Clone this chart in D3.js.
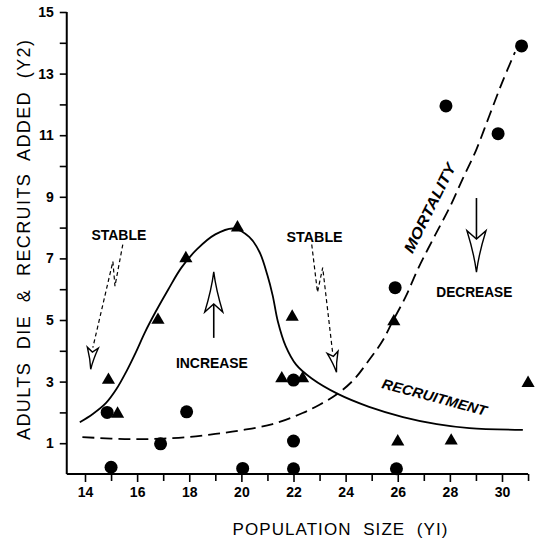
<!DOCTYPE html>
<html>
<head>
<meta charset="utf-8">
<script src="https://cdn.jsdelivr.net/npm/d3@7"></script>
<style>
  body { margin: 0; background: #fff; }
  svg { display: block; }
  text { font-family: "Liberation Sans", Arial, sans-serif; fill: #000; white-space: pre; }
</style>
</head>
<body>
<script>
// adults that die (circles)
var mortalityX = [15.0, 14.85, 16.9, 17.9, 20.05, 22.0, 22.0, 22.0, 25.9, 25.95, 27.85, 29.85, 30.75];
var mortalityY = [0.22, 2.0, 0.98, 2.02, 0.18, 3.05, 1.07, 0.17, 6.05, 0.17, 11.95, 11.05, 13.9];

// recruits added (triangles)
var recruitX = [14.9, 15.25, 16.8, 17.87, 19.85, 21.95, 21.55, 22.35, 25.85, 26.0, 28.05, 31.0];
var recruitY = [3.05, 1.95, 5.0, 7.0, 8.0, 5.1, 3.1, 3.1, 4.95, 1.05, 1.08, 2.95];

// hand drawn curves
var recruitCurveX = [13.8, 14.3, 14.8, 15.2, 15.6, 15.95, 16.3, 16.7, 17.2, 17.7, 18.3, 19.0, 19.7, 20.3, 20.7, 21.0, 21.2, 21.4, 21.7, 22.1, 22.7, 23.7, 24.9, 26.2, 27.5, 28.75, 30.8];
var recruitCurveY = [1.68, 1.95, 2.3, 2.75, 3.35, 3.95, 4.6, 5.25, 6.0, 6.7, 7.3, 7.78, 7.97, 7.7, 7.2, 6.45, 5.8, 4.95, 4.15, 3.55, 3.1, 2.6, 2.18, 1.85, 1.62, 1.49, 1.43];
var mortCurveX = [13.9, 15, 16, 17, 18, 19, 20, 21.2, 22.35, 23.0, 23.65, 24.3, 24.9, 25.4, 25.8, 26.3, 26.8, 27.4, 28.0, 28.5, 29.0, 29.5, 30.0, 30.5];
var mortCurveY = [1.2, 1.15, 1.13, 1.15, 1.2, 1.3, 1.42, 1.62, 1.98, 2.25, 2.58, 3.05, 3.7, 4.3, 4.95, 5.75, 6.7, 7.7, 8.67, 9.6, 10.5, 11.6, 12.7, 13.7];

var xLabelTicks = [14, 16, 18, 20, 22, 24, 26, 28, 30];
var xMinorTicks = [15, 17, 19, 21, 23, 25, 27, 29, 31];
var yLabelTicks = [1, 3, 5, 7, 9, 11, 13, 15];
var yMinorTicks = [2, 4, 6, 8, 10, 12, 14];

var width = 537, height = 541;

var x = d3.scaleLinear().domain([14, 30]).range([85, 502]);
var y = d3.scaleLinear().domain([0, 15]).range([474, 12]);

var svg = d3.select("body").append("svg")
    .attr("width", width)
    .attr("height", height);

// axes
var xAxis = svg.append("g")
    .attr("transform", "translate(0," + y(0) + ")")
    .call(d3.axisBottom(x).tickValues(xLabelTicks).tickSize(8).tickPadding(5).tickFormat(d3.format("d")));
var xMinor = svg.append("g")
    .attr("transform", "translate(0," + y(0) + ")")
    .call(d3.axisBottom(x).tickValues(xMinorTicks).tickSize(7).tickFormat(""));
var yAxis = svg.append("g")
    .attr("transform", "translate(" + x(13.3) + ",0)")
    .call(d3.axisLeft(y).tickValues(yLabelTicks).tickSize(7).tickPadding(6).tickFormat(d3.format("d")));
var yMinor = svg.append("g")
    .attr("transform", "translate(" + x(13.3) + ",0)")
    .call(d3.axisLeft(y).tickValues(yMinorTicks).tickSize(7).tickFormat(""));

[xAxis, xMinor, yAxis, yMinor].forEach(function(a) {
  a.select(".domain").remove();
  a.selectAll("line").attr("stroke", "#000").attr("stroke-width", 1.6);
  a.selectAll("text").attr("font-size", 14).attr("font-family", "Liberation Sans").attr("font-weight", "bold");
});

svg.append("line")
    .attr("x1", x(13.3)).attr("x2", x(31))
    .attr("y1", y(0)).attr("y2", y(0))
    .attr("stroke", "#000").attr("stroke-width", 2);
svg.append("line")
    .attr("x1", x(13.3)).attr("x2", x(13.3))
    .attr("y1", y(0)).attr("y2", y(15))
    .attr("stroke", "#000").attr("stroke-width", 2);

// axis titles
svg.append("text")
    .attr("x", 340).attr("y", 535)
    .attr("text-anchor", "middle")
    .attr("font-size", 17)
    .attr("textLength", 215).attr("lengthAdjust", "spacing")
    .text("POPULATION  SIZE  (YI)");
svg.append("text")
    .attr("transform", "translate(30,240) rotate(-90)")
    .attr("text-anchor", "middle")
    .attr("font-size", 18)
    .attr("textLength", 400).attr("lengthAdjust", "spacing")
    .text("ADULTS  DIE  &  RECRUITS  ADDED  (Y2)");

// curves
var line = d3.line()
    .x(function(d) { return x(d[0]); })
    .y(function(d) { return y(d[1]); })
    .curve(d3.curveCatmullRom);

svg.append("path")
    .datum(d3.zip(recruitCurveX, recruitCurveY))
    .attr("d", line)
    .attr("fill", "none").attr("stroke", "#000").attr("stroke-width", 1.8);
svg.append("path")
    .datum(d3.zip(mortCurveX, mortCurveY))
    .attr("d", line)
    .attr("fill", "none").attr("stroke", "#000").attr("stroke-width", 1.8)
    .attr("stroke-dasharray", "12,6");

// points
svg.selectAll(".dot")
    .data(d3.zip(mortalityX, mortalityY))
  .enter().append("circle")
    .attr("class", "dot")
    .attr("cx", function(d) { return x(d[0]); })
    .attr("cy", function(d) { return y(d[1]); })
    .attr("r", 6.5);

var tri = d3.symbol().type(d3.symbolTriangle).size(75);
svg.selectAll(".tri")
    .data(d3.zip(recruitX, recruitY))
  .enter().append("path")
    .attr("class", "tri")
    .attr("d", tri)
    .attr("transform", function(d) { return "translate(" + x(d[0]) + "," + y(d[1]) + ")"; });

// open arrow head from base point to tip point
function arrowHead(bx, by, tx, ty, w) {
  var dx = tx - bx, dy = ty - by, len = Math.sqrt(dx * dx + dy * dy);
  var ux = dx / len, uy = dy / len, px = -uy, py = ux;
  var b1 = [bx + px * w, by + py * w], b2 = [bx - px * w, by - py * w];
  var n = [bx + ux * len * 0.2, by + uy * len * 0.2];
  var m = [bx + ux * len * 0.55, by + uy * len * 0.55];
  var c1 = [m[0] + px * w * 0.25, m[1] + py * w * 0.25], c2 = [m[0] - px * w * 0.25, m[1] - py * w * 0.25];
  svg.append("path")
    .attr("d", "M" + tx + "," + ty + "Q" + c1 + " " + b1 + "L" + n + "L" + b2 + "Q" + c2 + " " + tx + "," + ty + "Z")
    .attr("fill", "#fff").attr("stroke", "#000").attr("stroke-width", 1.4);
}

// increase arrow
svg.append("line")
    .attr("x1", x(18.94)).attr("x2", x(18.94))
    .attr("y1", y(4.42)).attr("y2", y(5.5))
    .attr("stroke", "#000").attr("stroke-width", 1.6);
arrowHead(x(18.94), y(5.26), x(18.94), y(6.56), 9);

// decrease arrow
svg.append("line")
    .attr("x1", x(29.02)).attr("x2", x(29.02))
    .attr("y1", y(8.96)).attr("y2", y(7.6))
    .attr("stroke", "#000").attr("stroke-width", 1.6);
arrowHead(x(29.02), y(7.9), x(29.02), y(6.55), 9.5);

// stable arrows (dashed zigzag)
function stable(pts, tip) {
  svg.append("path")
    .attr("d", d3.line()(pts))
    .attr("fill", "none").attr("stroke", "#000").attr("stroke-width", 1.2)
    .attr("stroke-dasharray", "4,3");
  var last = pts[pts.length - 1];
  arrowHead(last[0], last[1], tip[0], tip[1], 5.5);
}
stable([[x(15.45), y(7.45)], [x(15.15), y(6.1)], [x(15.07), y(6.9)], [x(14.3), y(4.1)]], [x(14.22), y(3.4)]);
stable([[x(22.7), y(7.45)], [x(22.92), y(5.9)], [x(23.12), y(6.7)], [x(23.5), y(3.95)]], [x(23.65), y(3.3)]);

// labels
function label(txt, cx, cy, size, len, rot, italic) {
  svg.append("text")
    .attr("transform", "translate(" + cx + "," + cy + ") rotate(" + (rot || 0) + ")")
    .attr("text-anchor", "middle")
    .attr("dy", "0.36em")
    .attr("font-size", size)
    .attr("font-weight", "bold")
    .attr("font-style", italic ? "italic" : "normal")
    .attr("textLength", len).attr("lengthAdjust", "spacingAndGlyphs")
    .text(txt);
}
label("STABLE", x(15.3), y(7.76), 14, 55);
label("STABLE", x(22.81), y(7.69), 14, 56);
label("INCREASE", x(18.87), y(3.6), 14, 72);
label("DECREASE", x(28.94), y(5.91), 15, 76);
label("MORTALITY", x(27.22), y(8.64), 15, 98, -63.5, true);
label("RECRUITMENT", x(27.41), y(2.5), 14, 108, 15, true);
</script>
</body>
</html>
